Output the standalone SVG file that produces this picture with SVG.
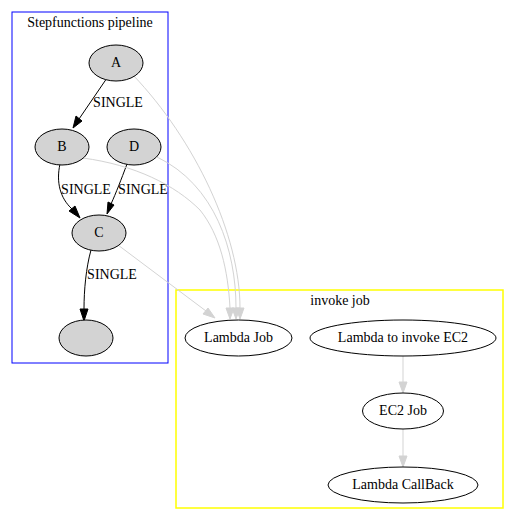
<svg xmlns="http://www.w3.org/2000/svg" width="515" height="522" viewBox="0 0 515 522">
<style>
text{font-family:"Liberation Serif","Times New Roman",serif;font-size:14px;text-anchor:middle;fill:#000}
.g{fill:#d3d3d3;stroke:#000;stroke-width:1}
.w{fill:#fff;stroke:#000;stroke-width:1}
.eb{fill:none;stroke:#000;stroke-width:1}
.eg{fill:none;stroke:#d3d3d3;stroke-width:1}
.ab{fill:#000;stroke:#000}
.ag{fill:#d3d3d3;stroke:#d3d3d3}
</style>
<rect width="515" height="522" fill="#fff"/>
<g id="cluster_step">
<rect x="12" y="12" width="156" height="351" fill="none" stroke="#0000ff" stroke-width="1"/>
<text x="90" y="27">Stepfunctions pipeline</text>
</g>
<g id="cluster_invoke">
<rect x="176" y="290" width="327" height="218" fill="none" stroke="#ffff00" stroke-width="1.5"/>
<text x="340" y="305">invoke job</text>
</g>
<g id="edges">
<path class="eb" d="M107,78 L79,119"/>
<polygon class="ab" points="76,116 73,128 82,121"/>
<text x="118" y="107">SINGLE</text>
<path class="eb" d="M60,164 C56,182 60,198 72,209"/>
<polygon class="ab" points="69,211 80,218 75,206"/>
<text x="86" y="194">SINGLE</text>
<path class="eb" d="M127,164 C121,180 116,193 111,204"/>
<polygon class="ab" points="108,202 107,214 114,205"/>
<text x="143" y="194">SINGLE</text>
<path class="eb" d="M91,250 C86,268 84,290 84,309"/>
<polygon class="ab" points="80,309 84,321 88,309"/>
<text x="112" y="279">SINGLE</text>
<path class="eg" d="M133,75 C195,140 240,235 240,308"/>
<polygon class="ag" points="236,308 240,319 244,308"/>
<path class="eg" d="M157,157 C215,185 236,250 236,308"/>
<polygon class="ag" points="232,308 236,319 240,308"/>
<path class="eg" d="M83,158 C135,165 175,185 200,210 C220,235 228,270 230,308"/>
<polygon class="ag" points="226,308 230,319 234,308"/>
<path class="eg" d="M118,245 L206,311"/>
<polygon class="ag" points="203,314 215,318 208,308"/>
<path class="eg" d="M403,356 L403,382"/>
<polygon class="ag" points="399,382 403,393 407,382"/>
<path class="eg" d="M403,429 L403,456"/>
<polygon class="ag" points="399,456 403,467 407,456"/>
</g>
<g id="node_A"><ellipse class="g" cx="116" cy="63" rx="27" ry="18"/><text x="116" y="67">A</text></g>
<g id="node_B"><ellipse class="g" cx="62" cy="147" rx="27" ry="18"/><text x="62" y="151">B</text></g>
<g id="node_D"><ellipse class="g" cx="134" cy="147" rx="27" ry="18"/><text x="134" y="151">D</text></g>
<g id="node_C"><ellipse class="g" cx="99" cy="233" rx="27" ry="18"/><text x="99" y="237">C</text></g>
<g id="node_empty"><ellipse class="g" cx="86" cy="338" rx="27" ry="18"/></g>
<g id="node_lambda_job"><ellipse class="w" cx="238.5" cy="338" rx="53.5" ry="18"/><text x="238.5" y="342">Lambda Job</text></g>
<g id="node_lambda_ec2"><ellipse class="w" cx="403" cy="338" rx="93" ry="18"/><text x="403" y="342">Lambda to invoke EC2</text></g>
<g id="node_ec2_job"><ellipse class="w" cx="403" cy="411" rx="40.5" ry="18"/><text x="403" y="415">EC2 Job</text></g>
<g id="node_callback"><ellipse class="w" cx="403" cy="485" rx="75" ry="18"/><text x="403" y="489">Lambda CallBack</text></g>
</svg>
